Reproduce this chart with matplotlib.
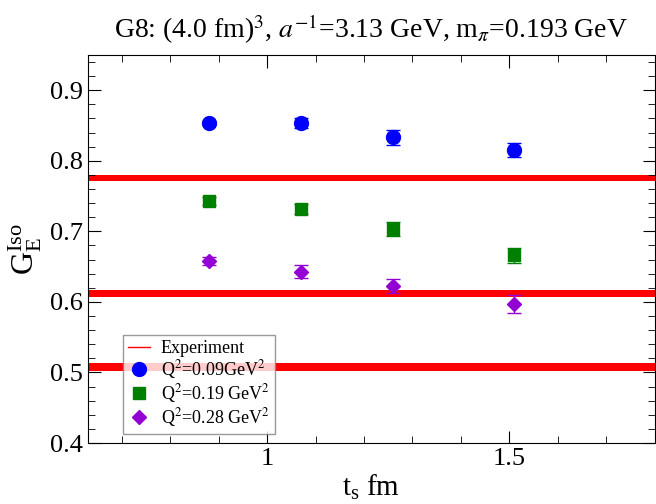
import matplotlib
matplotlib.use("Agg")
import matplotlib.pyplot as plt
from matplotlib.lines import Line2D
from matplotlib.ticker import MultipleLocator

plt.rcParams['font.family'] = ['Liberation Serif', 'DejaVu Serif']
plt.rcParams['mathtext.fontset'] = 'stix'

# source-sink separations (fm)
ts = [0.88, 1.07, 1.26, 1.51]

# G_E^Iso for each Q^2
g_q009 = [0.853, 0.853, 0.833, 0.815]
e_q009 = [0.003, 0.007, 0.010, 0.010]
g_q019 = [0.743, 0.732, 0.703, 0.666]
e_q019 = [0.006, 0.007, 0.010, 0.011]
g_q028 = [0.658, 0.643, 0.623, 0.597]
e_q028 = [0.006, 0.009, 0.010, 0.013]

# experimental bands: centre, half width
exp_mid = [0.776, 0.612, 0.508]
exp_hw = [0.004, 0.0055, 0.0055]

fig = plt.figure(figsize=(6.56, 5.04), dpi=100)
ax = fig.add_axes([0.134, 0.121, 0.864, 0.770])

for m, h in zip(exp_mid, exp_hw):
    ax.axhspan(m - h, m + h, color='red', lw=0)

ax.errorbar(ts, g_q009, yerr=e_q009, fmt='o', color='blue', ms=10,
            capsize=5, elinewidth=1, capthick=1)
ax.errorbar(ts, g_q019, yerr=e_q019, fmt='s', color='green', ms=8,
            capsize=5, elinewidth=1, capthick=1)
ax.errorbar(ts, g_q028, yerr=e_q028, fmt='D', color='darkviolet', ms=7,
            capsize=5, elinewidth=1, capthick=1)

ax.set_xlim(0.63, 1.8)
ax.set_ylim(0.4, 0.95)
ax.xaxis.set_major_locator(MultipleLocator(0.5))
ax.xaxis.set_minor_locator(MultipleLocator(0.1))
ax.yaxis.set_major_locator(MultipleLocator(0.1))
ax.yaxis.set_minor_locator(MultipleLocator(0.02))
ax.tick_params(which='both', direction='in', top=True, right=True, labelsize=19)
ax.tick_params(which='major', length=9)
ax.tick_params(which='minor', length=5)
ax.set_yticks([0.4, 0.5, 0.6, 0.7, 0.8, 0.9])
ax.set_yticklabels(['0.4', '0.5', '0.6', '0.7', '0.8', '0.9'])
ax.set_xticks([1, 1.5])
ax.set_xticklabels(['1', '1.5'])

ax.set_xlabel(r'$\mathregular{t_s}$ fm', fontsize=21, labelpad=2)
ax.set_ylabel(r'$\mathregular{G_E^{Iso}}$', fontsize=23, labelpad=4)
ax.set_title(r'G8: (4.0 fm)$^3$, $a^{-1}$=3.13 GeV, m$_\pi$=0.193 GeV',
             fontsize=20, pad=12)

handles = [
    Line2D([], [], color='red', lw=1),
    Line2D([], [], marker='o', color='blue', ls='none', ms=10),
    Line2D([], [], marker='s', color='green', ls='none', ms=8),
    Line2D([], [], marker='D', color='darkviolet', ls='none', ms=7),
]
labels = ['Experiment', r'Q$^2$=0.09GeV$^2$', r'Q$^2$=0.19 GeV$^2$',
          r'Q$^2$=0.28 GeV$^2$']
leg = ax.legend(handles, labels, loc='lower left', bbox_to_anchor=(0.062, 0.022),
                fontsize=13, frameon=True, fancybox=False, edgecolor='gray',
                handlelength=1.2, handletextpad=0.6, borderpad=0.3,
                labelspacing=0.05, borderaxespad=0)
leg.get_frame().set_linewidth(1)

fig.savefig('out.png', dpi=100)
